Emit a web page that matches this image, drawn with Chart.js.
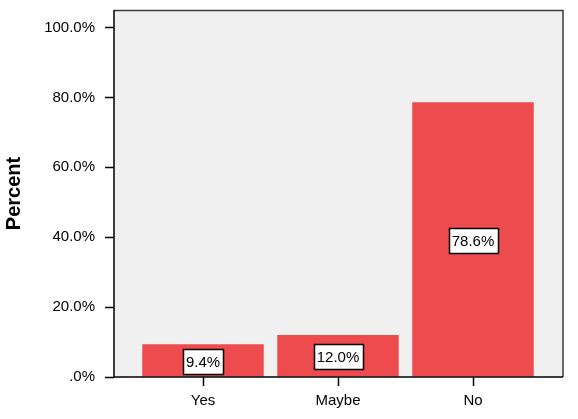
<!DOCTYPE html>
<html>
<head>
    <title>Percent by answer</title>
    <style>
        body { margin: 0; background: #fff; }
        #wrap { width: 578px; height: 419px; }
    </style>
</head>
<body>
    <div id="wrap"><canvas id="chart" width="578" height="419"></canvas></div>

    <script src="https://cdn.jsdelivr.net/npm/chart.js@4.4.1/dist/chart.umd.min.js"></script>
    <script>
        const categories = ["Yes", "Maybe", "No"];
        const percents = [9.4, 12.0, 78.6];
        const yTicks = [0, 20, 40, 60, 80, 100];

        const FONT = "'Liberation Sans', Arial, sans-serif";
        // the gray frame reaches past the outer categories
        const FRAME_LEFT = 114, FRAME_RIGHT = 563;

        const plotFrame = {
            id: "plotFrame",
            beforeDraw(chart) {
                const a = chart.chartArea, ctx = chart.ctx;
                ctx.save();
                ctx.fillStyle = "#f0f0f0";
                ctx.fillRect(FRAME_LEFT, a.top, FRAME_RIGHT - FRAME_LEFT, a.bottom - a.top);
                ctx.restore();
            },
            afterDraw(chart) {
                const a = chart.chartArea, ctx = chart.ctx;
                const y = chart.scales.y;
                ctx.save();
                ctx.strokeStyle = "#3a3a3a";
                ctx.lineWidth = 1.5;
                ctx.beginPath();
                ctx.moveTo(FRAME_LEFT, a.top + 0.5);
                ctx.lineTo(FRAME_RIGHT, a.top + 0.5);
                ctx.lineTo(FRAME_RIGHT, a.bottom);
                ctx.stroke();
                // axes
                ctx.strokeStyle = "#000";
                ctx.beginPath();
                ctx.moveTo(FRAME_LEFT, a.top);
                ctx.lineTo(FRAME_LEFT, a.bottom);
                ctx.lineTo(FRAME_RIGHT, a.bottom);
                // y tick marks
                yTicks.forEach(v => {
                    const py = Math.round(y.getPixelForValue(v)) + 0.5;
                    ctx.moveTo(FRAME_LEFT - 9, py);
                    ctx.lineTo(FRAME_LEFT, py);
                });
                ctx.stroke();
                ctx.restore();
            }
        };

        // boxed value labels in the middle of each bar
        const boxLabels = {
            id: "boxLabels",
            afterDatasetsDraw(chart) {
                const ctx = chart.ctx;
                const meta = chart.getDatasetMeta(0);
                ctx.save();
                ctx.font = "15px " + FONT;
                ctx.textAlign = "center";
                ctx.textBaseline = "middle";
                meta.data.forEach((bar, i) => {
                    const txt = percents[i].toFixed(1) + "%";
                    const w = Math.round(ctx.measureText(txt).width + 6);
                    const h = 25;
                    const x0 = Math.round(bar.x - w / 2) + 0.5;
                    const y0 = Math.round((bar.y + bar.base) / 2 + 1 - h / 2) + 0.5;
                    ctx.fillStyle = "#fff";
                    ctx.fillRect(x0, y0, w, h);
                    ctx.strokeStyle = "#000";
                    ctx.lineWidth = 1.5;
                    ctx.strokeRect(x0, y0, w, h);
                    ctx.fillStyle = "#000";
                    ctx.fillText(txt, bar.x, y0 + h / 2 + 1);
                });
                ctx.restore();
            }
        };

        new Chart(document.getElementById("chart"), {
            type: "bar",
            data: {
                labels: categories,
                datasets: [{
                    data: percents,
                    backgroundColor: "#ee4b4f",
                    borderWidth: 0,
                    barPercentage: 0.9,
                    categoryPercentage: 1.0
                }]
            },
            options: {
                responsive: false,
                animation: false,
                layout: { padding: { top: 10, right: 578 - 540.5, left: 0, bottom: 0 } },
                plugins: { legend: { display: false }, tooltip: { enabled: false } },
                scales: {
                    x: {
                        offset: true,
                        ticks: {
                            color: "#000",
                            font: { family: FONT, size: 15 },
                            padding: 6,
                            maxRotation: 0
                        },
                        grid: { drawOnChartArea: false, offset: false, tickLength: 9, tickColor: "#000", tickWidth: 1.5 },
                        border: { display: false },
                        afterFit: (s) => { s.height = 42; }
                    },
                    y: {
                        min: 0,
                        max: 105,
                        afterBuildTicks: (s) => { s.ticks = yTicks.map(v => ({ value: v })); },
                        ticks: {
                            callback: (v) => v === 0 ? ".0%" : v.toFixed(1) + "%",
                            color: "#000",
                            font: { family: FONT, size: 15 },
                            padding: 8
                        },
                        // invisible long ticks push labels left of the frame
                        grid: { drawOnChartArea: false, tickLength: 32.5, tickColor: "rgba(0,0,0,0)" },
                        border: { display: false },
                        title: {
                            display: true,
                            text: "Percent",
                            color: "#000",
                            font: { family: FONT, size: 20, weight: "bold" },
                            padding: { top: 2, bottom: 0 }
                        },
                        afterFit: (s) => {
                            s.width = 135.5;
                            s.paddingTop = 0;
                            s.paddingBottom = 0;
                        }
                    }
                }
            },
            plugins: [plotFrame, boxLabels]
        });
    </script>
</body>
</html>
